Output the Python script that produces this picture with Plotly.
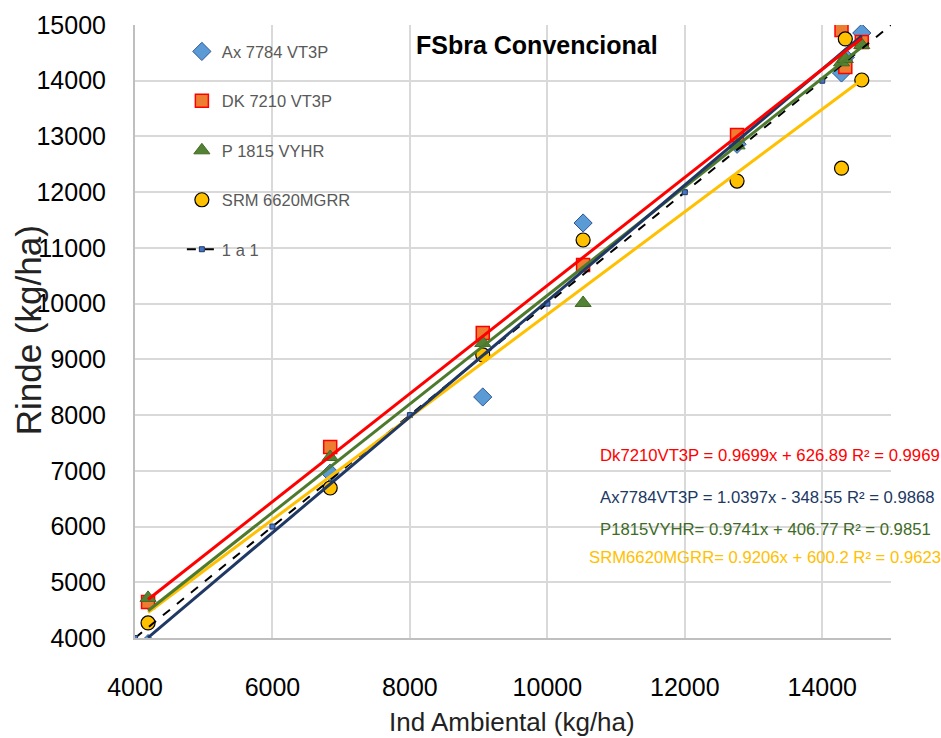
import plotly.graph_objects as go

# ---- data ----
env = [4190, 6840, 9060, 10520, 12760, 14280, 14335, 14575]
ax7784 = [3900, 6960, 8325, 11447, 12860, 14139, 14420, 14856]
dk7210 = [4647, 7428, 9473, 10693, 13026, 14910, 14246, 14695]
p1815 = [4720, 7248, 9294, 10012, 12840, 14330, 14390, 14640]
srm6620 = [4270, 6692, 9079, 11142, 12200, 12430, 14750, 14013]

one_x = [4000, 6000, 8000, 10000, 12000, 14000, 16000]
one_y = [4000, 6000, 8000, 10000, 12000, 14000, 16000]

series_names = ["Ax 7784 VT3P", "DK 7210 VT3P", "P 1815 VYHR", "SRM 6620MGRR"]
slopes = [1.0397, 0.9699, 0.9741, 0.9206]
intercepts = [-348.55, 626.89, 406.77, 600.2]
equations = [
    "Dk7210VT3P = 0.9699x + 626.89 R² = 0.9969",
    "Ax7784VT3P = 1.0397x - 348.55 R² = 0.9868",
    "P1815VYHR= 0.9741x + 406.77 R² = 0.9851",
    "SRM6620MGRR= 0.9206x + 600.2 R² = 0.9623",
]

x_ticks = [4000, 6000, 8000, 10000, 12000, 14000]
y_ticks = list(range(4000, 15001, 1000))

FONT = "Liberation Sans, Arial, sans-serif"

fig = go.Figure()

styles = [
    dict(symbol="diamond", color="#5B9BD5", line=dict(color="#2F5597", width=1), size=14),
    dict(symbol="square", color="#ED7D31", line=dict(color="#FF0000", width=1.5), size=13),
    dict(symbol="triangle-up", color="#548235", line=dict(color="#3F6B22", width=1), size=14),
    dict(symbol="circle", color="#FFC000", line=dict(color="#000000", width=1.2), size=14),
]
ys = [ax7784, dk7210, p1815, srm6620]
for i, (name, y, st) in enumerate(zip(series_names, ys, styles)):
    fig.add_trace(go.Scatter(
        x=env, y=y, mode="markers", name=name, marker=st,
        legendgroup=f"g{i}", legendrank=i + 1,
    ))

# 1:1 line
fig.add_trace(go.Scatter(
    x=one_x, y=one_y, mode="lines+markers", name="1 a 1",
    line=dict(color="black", width=2, dash="dash"),
    marker=dict(symbol="square", size=5, color="#4472C4", line=dict(color="#203864", width=1)),
    legendgroup="g4", legendrank=5,
))

# trendlines (from the printed regression equations)
trend_colors = ["#203864", "#FF0000", "#4E7A2E", "#FFC000"]
xs_line = [min(env), max(env)]
order = [3, 2, 0, 1]  # draw yellow, green, navy, red (red on top)
for i in order:
    fig.add_trace(go.Scatter(
        x=xs_line, y=[slopes[i] * xv + intercepts[i] for xv in xs_line],
        mode="lines", line=dict(color=trend_colors[i], width=3),
        showlegend=False, hoverinfo="skip",
    ))

# equation labels
eq_colors = ["#FF0000", "#203864", "#3E6B25", "#FFC000"]
eq_y = [0.2985, 0.230, 0.1778, 0.1321]
eq_x = [0.6124, 0.6124, 0.6124, 0.598]
annotations = []
for t, c, xx, yy in zip(equations, eq_colors, eq_x, eq_y):
    annotations.append(dict(
        text=t, x=xx, y=yy, xref="paper", yref="paper", xanchor="left", yanchor="middle",
        showarrow=False, font=dict(family=FONT, size=16.7, color=c),
    ))

annotations.append(dict(
    text="<b>FSbra Convencional</b>", x=0.532, y=0.967, xref="paper", yref="paper",
    xanchor="center", yanchor="middle", showarrow=False,
    font=dict(family=FONT, size=25, color="black"),
))
annotations.append(dict(
    text="Ind Ambiental (kg/ha)", x=0.499, y=-0.137, xref="paper", yref="paper",
    xanchor="center", yanchor="middle", showarrow=False,
    font=dict(family=FONT, size=26, color="#222222"),
))
annotations.append(dict(
    text="Rinde (kg/ha)", x=-0.1415, y=0.502, xref="paper", yref="paper",
    xanchor="center", yanchor="middle", showarrow=False, textangle=-90,
    font=dict(family=FONT, size=35, color="#222222"),
))

fig.update_layout(
    width=941, height=738,
    margin=dict(l=135, r=50, t=25, b=100),
    paper_bgcolor="white", plot_bgcolor="white",
    showlegend=True,
    legend=dict(
        x=0.062, y=0.985, xanchor="left", yanchor="top",
        font=dict(family=FONT, size=16.5, color="#595959"),
        bgcolor="rgba(0,0,0,0)", tracegroupgap=25,
        itemsizing="trace",
    ),
    annotations=annotations,
    xaxis=dict(
        range=[4000, 15000], tickvals=x_ticks, tickformat="d", showgrid=True,
        gridcolor="#D9D9D9", gridwidth=2,
        showline=True, linecolor="#BFBFBF", linewidth=2, zeroline=False, ticks="",
        tickfont=dict(family=FONT, size=25, color="black"), ticklabelstandoff=26,
    ),
    yaxis=dict(
        range=[4000, 15000], tickvals=y_ticks, tickformat="d", showgrid=True,
        gridcolor="#D9D9D9", gridwidth=2,
        showline=True, linecolor="#BFBFBF", linewidth=2, zeroline=False, ticks="",
        tickfont=dict(family=FONT, size=25, color="black"), ticklabelstandoff=22,
    ),
)

fig.write_html("out.html")
